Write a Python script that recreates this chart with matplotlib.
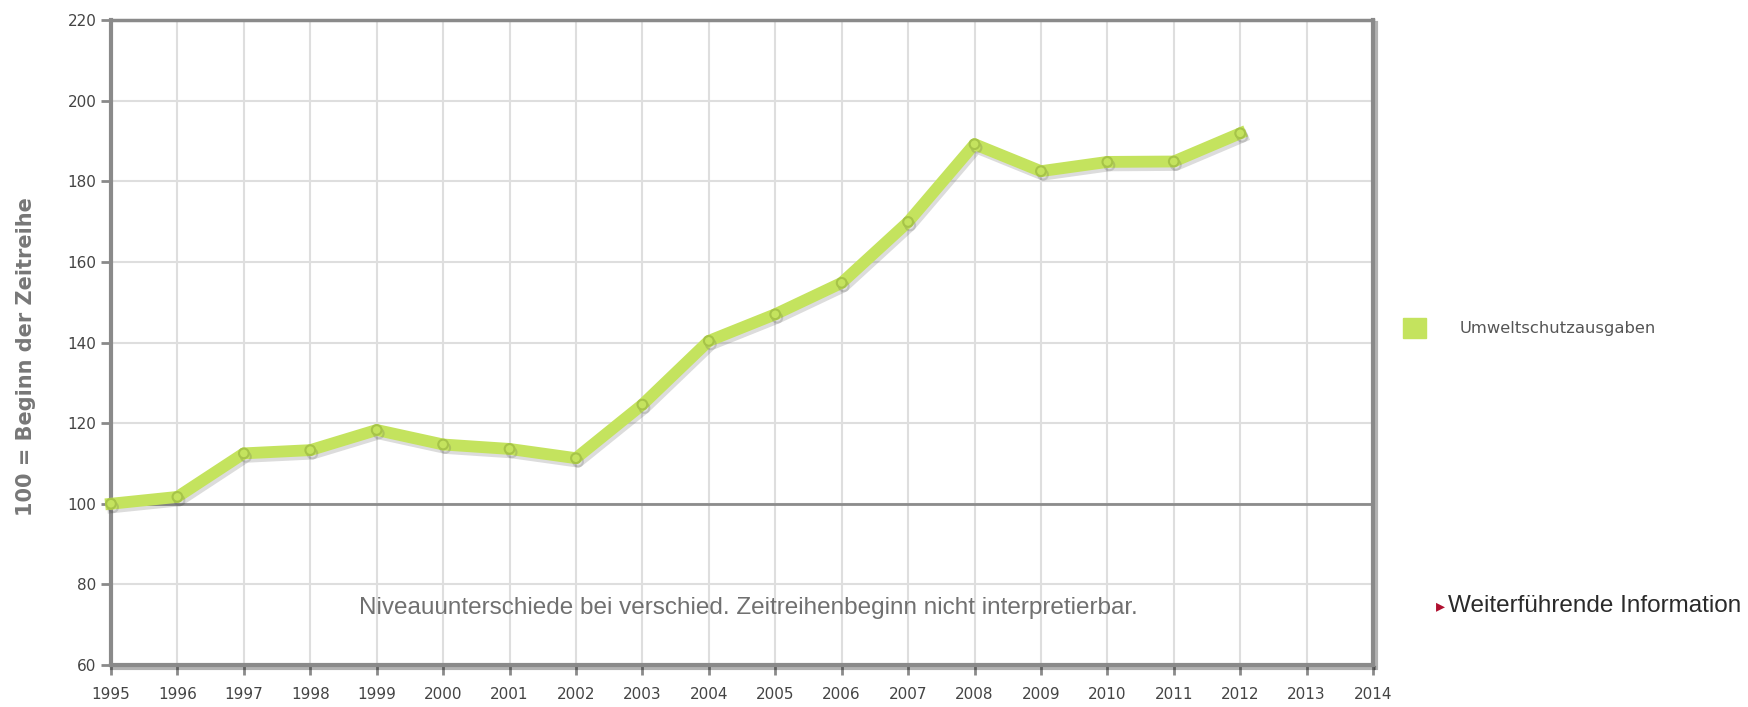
import numpy as np
import matplotlib
matplotlib.use('Agg')
import matplotlib.pyplot as plt
import matplotlib.patheffects as pe

# data
years = [1995, 1996, 1997, 1998, 1999, 2000, 2001, 2002, 2003, 2004, 2005,
         2006, 2007, 2008, 2009, 2010, 2011, 2012]
values = [100.0, 101.7, 112.5, 113.3, 118.3, 114.7, 113.6, 111.3, 124.6, 140.4,
          147.0, 154.8, 169.9, 189.2, 182.5, 184.8, 184.9, 191.9]
x_ticks = list(range(1995, 2015))
y_ticks = [60, 80, 100, 120, 140, 160, 180, 200, 220]
series_name = 'Umweltschutzausgaben'

green = '#c4e35e'
edge_green = '#a6c448'
axis_grey = '#8a8a8a'

fig = plt.figure(figsize=(17.48, 7.07), dpi=100)
ax = fig.add_axes([0.0635, 0.0594, 0.722, 0.9123])

ax.set_xlim(1995, 2014)
ax.set_ylim(60, 220)
ax.set_xticks(x_ticks)
ax.set_yticks(y_ticks)
ax.grid(True, color='#dedede', linewidth=1.5)
ax.set_axisbelow(True)

# reference line at 100
ax.axhline(100, color='#8c8c8c', linewidth=2, zorder=2)

ax.plot(years, values, color=green, linewidth=8.5, solid_joinstyle='round',
        marker='o', markersize=7, markerfacecolor=green, markeredgecolor=edge_green,
        markeredgewidth=1.5, zorder=3, clip_on=False,
        path_effects=[pe.SimpleLineShadow(offset=(1.5, -2.5), shadow_color='#505050', alpha=0.2),
                      pe.Normal()])

for side in ['left', 'bottom', 'top', 'right']:
    ax.spines[side].set_color(axis_grey)
ax.spines['left'].set_linewidth(3)
ax.spines['bottom'].set_linewidth(3)
ax.spines['top'].set_linewidth(2.5)
ax.spines['right'].set_linewidth(3)
ax.spines['right'].set_path_effects([pe.SimpleLineShadow(offset=(2, -2), alpha=0.3), pe.Normal()])
ax.spines['bottom'].set_path_effects([pe.SimpleLineShadow(offset=(1, -2), alpha=0.3), pe.Normal()])

ax.tick_params(axis='both', colors=axis_grey, labelcolor='#444444', labelsize=11,
               length=7, width=2)
ax.tick_params(axis='x', pad=9)

ax.set_ylabel('100 = Beginn der Zeitreihe', fontsize=15, color='#777777',
              fontweight='bold')
ax.yaxis.set_label_coords(-0.0595, 0.4775)

ax.text(0.505, 0.088, 'Niveauunterschiede bei verschied. Zeitreihenbeginn nicht interpretierbar.',
        transform=ax.transAxes, ha='center', va='center', fontsize=17.5,
        color='#707070', family='Liberation Sans')

# legend
fig.patches.append(plt.Rectangle((1403 / 1748, 1 - 338 / 707), 23 / 1748, 20 / 707,
                                 transform=fig.transFigure, color=green))
fig.text(1460 / 1748, 1 - 328 / 707, series_name, fontsize=11.8, color='#555555',
         va='center', ha='left')

fig.text(1436 / 1748, 1 - 606 / 707, '\u25B8', fontsize=13, color='#b01030',
         va='center', ha='left')
fig.text(1448 / 1748, 1 - 606 / 707, 'Weiterführende Information', fontsize=17.5,
         color='#2a2a2a', va='center', ha='left', family='Liberation Sans')

fig.savefig('out.png', dpi=100, facecolor='white')
